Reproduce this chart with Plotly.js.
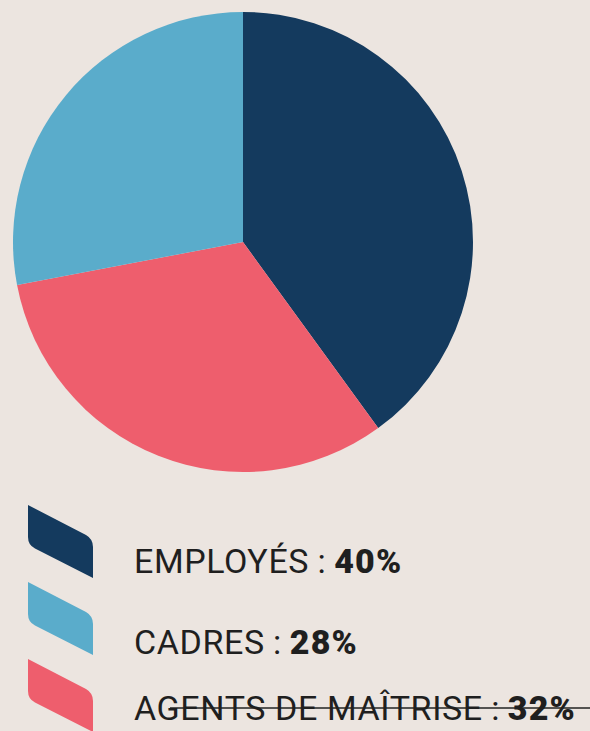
<!DOCTYPE html>
<html>
<head>
<meta charset="utf-8">
<script src="https://cdn.plot.ly/plotly-3.0.1.min.js"></script>
<style>
  html, body { margin: 0; padding: 0; background: #ece5e0; }
  #chart { width: 590px; height: 731px; }
</style>
</head>
<body>
<div id="chart"></div>
<script>
// Data
const categories = ["EMPLOYÉS", "AGENTS DE MAÎTRISE", "CADRES"];
const values = [40, 32, 28];
const colors = ["#143a5e", "#ee5e6d", "#5aaccb"];

// Legend order (as in reference)
const legendOrder = [0, 2, 1];

const W = 590, H = 731;
const cx = 243, cy = 242, r = 230;

const pie = {
  type: "pie",
  labels: categories,
  values: values,
  marker: { colors: colors, line: { width: 0 } },
  sort: false,
  direction: "clockwise",
  rotation: 0,
  textinfo: "none",
  hoverinfo: "label+percent",
  showlegend: false,
  domain: {
    x: [(cx - r) / W, (cx + r) / W],
    y: [1 - (cy + r) / H, 1 - (cy - r) / H]
  }
};

const shapes = [];
const annotations = [];
legendOrder.forEach((idx, i) => {
  const top = 505 + i * 77;
  const p = (x, y) => x + "," + (y);
  const path = "M" + p(28, top) +
    " L" + p(86, top + 30) +
    " Q" + p(93, top + 34) + " " + p(93, top + 42) +
    " L" + p(93, top + 73) +
    " L" + p(35, top + 43.5) +
    " Q" + p(28, top + 40) + " " + p(28, top + 32) + " Z";
  shapes.push({
    type: "path", xref: "x", yref: "y", path: path,
    fillcolor: colors[idx], line: { width: 0 }, layer: "above"
  });
  const baseline = [574, 655, 721][i];
  annotations.push({
    xref: "paper", yref: "paper", x: 133 / W, y: 1 - (baseline + 8) / H,
    xanchor: "left", yanchor: "bottom", borderpad: 0,
    showarrow: false,
    text: "<span style='letter-spacing:0.6px'>" + categories[idx] + "</span> : <span style='letter-spacing:1.2px;font-weight:900'>" + values[idx] + "%</span>",
    font: { family: "Roboto, 'DejaVu Sans', sans-serif", size: 34, color: "#1f1f1f" }
  });
});

// scan artifact line through last label
shapes.push({
  type: "line", xref: "x", yref: "y",
  x0: 170, x1: 590, y0: 708, y1: 708,
  line: { color: "#222", width: 1.3 }, layer: "above"
});

const layout = {
  width: W, height: H,
  margin: { l: 0, r: 0, t: 0, b: 0 },
  paper_bgcolor: "#ece5e0",
  plot_bgcolor: "rgba(0,0,0,0)",
  xaxis: { range: [0, W], visible: false, fixedrange: true },
  yaxis: { range: [H, 0], visible: false, fixedrange: true },
  shapes: shapes,
  annotations: annotations,
  showlegend: false
};

Plotly.newPlot("chart", [pie], layout, { displayModeBar: false, staticPlot: true });
</script>
</body>
</html>
